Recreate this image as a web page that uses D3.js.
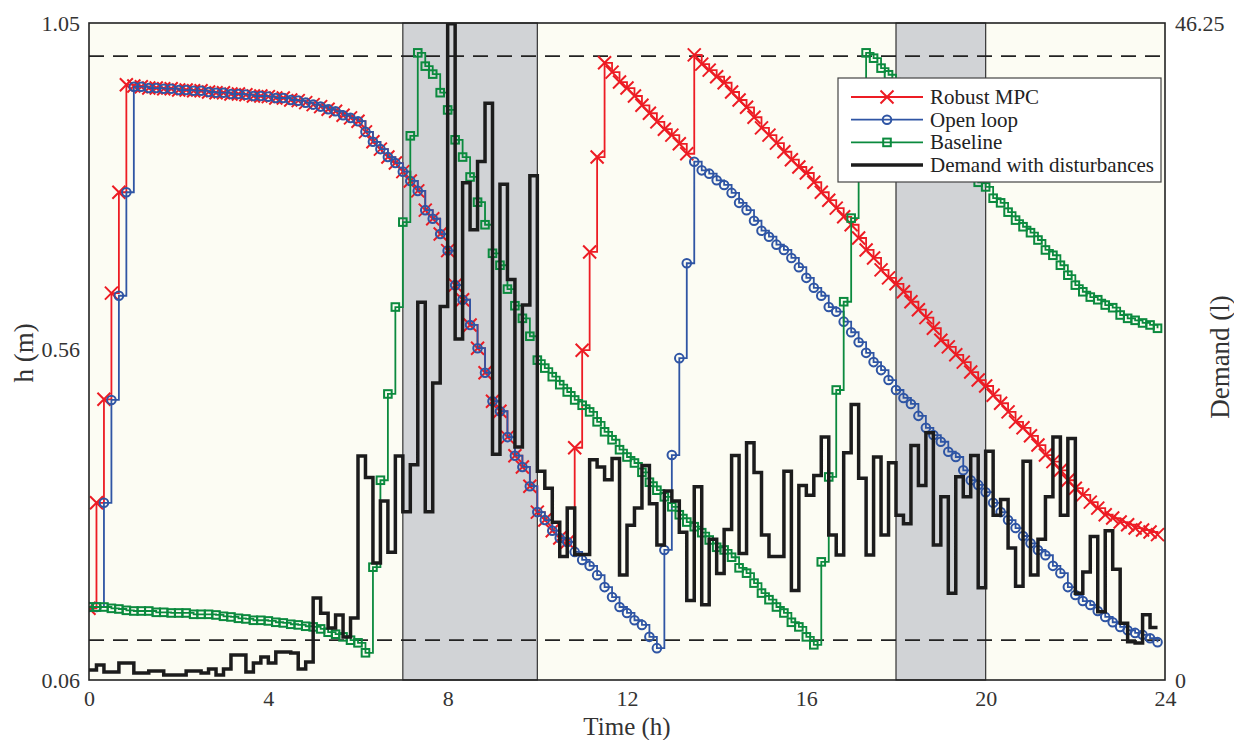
<!DOCTYPE html>
<html>
<head>
<meta charset="utf-8">
<script src="https://cdn.jsdelivr.net/npm/d3@7"></script>
<style>
  body { margin: 0; background: #fff; }
  text { font-family: "Liberation Serif", "Times New Roman", serif; }
</style>
</head>
<body>
<div id="chart-area"></div>
<script>
// sample period is 10 min, one per step
const stepHours = 1 / 6;

const robustMPC = [
  0.168,0.327,0.483,0.643,0.795,0.957,0.955,0.954,0.952,0.952,0.951,0.951,
  0.949,0.949,0.948,0.948,0.946,0.945,0.945,0.943,0.943,0.942,0.940,0.940,
  0.939,0.937,0.937,0.934,0.933,0.930,0.927,0.924,0.920,0.917,0.911,0.907,
  0.902,0.886,0.871,0.860,0.848,0.839,0.826,0.812,0.797,0.768,0.755,0.732,
  0.707,0.655,0.633,0.595,0.560,0.523,0.480,0.465,0.426,0.398,0.381,0.352,
  0.313,0.301,0.285,0.274,0.268,0.410,0.557,0.705,0.848,0.990,0.976,0.961,
  0.952,0.940,0.926,0.914,0.901,0.890,0.881,0.868,0.853,1.002,0.988,0.979,
  0.969,0.960,0.946,0.934,0.923,0.908,0.892,0.881,0.869,0.856,0.844,0.833,
  0.824,0.810,0.795,0.783,0.771,0.758,0.746,0.726,0.708,0.696,0.678,0.666,
  0.657,0.645,0.630,0.618,0.606,0.590,0.572,0.562,0.550,0.539,0.524,0.512,
  0.503,0.489,0.477,0.464,0.449,0.440,0.428,0.414,0.399,0.389,0.376,0.361,
  0.349,0.339,0.328,0.319,0.309,0.304,0.298,0.294,0.289,0.286,0.283,0.279
];

const openLoop = [
  0.170,0.170,0.327,0.482,0.639,0.795,0.954,0.954,0.952,0.952,0.951,0.951,
  0.949,0.949,0.948,0.948,0.946,0.945,0.945,0.943,0.943,0.942,0.940,0.940,
  0.939,0.937,0.937,0.934,0.933,0.930,0.927,0.924,0.920,0.917,0.911,0.907,
  0.902,0.886,0.871,0.860,0.848,0.839,0.826,0.812,0.797,0.768,0.755,0.732,
  0.707,0.655,0.633,0.595,0.560,0.523,0.480,0.465,0.426,0.398,0.381,0.352,
  0.313,0.301,0.285,0.274,0.268,0.253,0.241,0.232,0.218,0.200,0.185,0.170,
  0.161,0.150,0.143,0.125,0.108,0.256,0.399,0.545,0.688,0.841,0.828,0.823,
  0.813,0.806,0.794,0.779,0.768,0.752,0.737,0.728,0.716,0.708,0.696,0.682,
  0.666,0.651,0.639,0.622,0.615,0.600,0.584,0.569,0.553,0.539,0.527,0.512,
  0.497,0.485,0.476,0.458,0.440,0.429,0.419,0.404,0.396,0.376,0.361,0.354,
  0.343,0.327,0.313,0.301,0.289,0.277,0.266,0.256,0.248,0.232,0.221,0.200,
  0.188,0.179,0.173,0.164,0.155,0.147,0.140,0.135,0.131,0.128,0.123,0.117
];

const baseline = [
  0.170,0.170,0.170,0.168,0.167,0.165,0.164,0.164,0.164,0.162,0.162,0.161,
  0.161,0.161,0.159,0.159,0.159,0.158,0.156,0.155,0.153,0.152,0.150,0.150,
  0.149,0.147,0.146,0.144,0.143,0.141,0.140,0.137,0.132,0.129,0.125,0.120,
  0.116,0.101,0.230,0.361,0.491,0.622,0.750,0.880,1.005,0.985,0.973,0.945,
  0.919,0.874,0.848,0.818,0.780,0.746,0.703,0.685,0.649,0.624,0.605,0.578,
  0.542,0.530,0.517,0.505,0.494,0.482,0.474,0.464,0.449,0.434,0.422,0.407,
  0.396,0.387,0.373,0.358,0.346,0.336,0.321,0.309,0.298,0.291,0.282,0.271,
  0.260,0.256,0.245,0.229,0.221,0.206,0.191,0.181,0.170,0.161,0.147,0.140,
  0.125,0.113,0.238,0.366,0.497,0.630,0.756,0.886,1.005,0.997,0.982,0.972,
  0.960,0.949,0.937,0.923,0.910,0.896,0.883,0.869,0.854,0.839,0.822,0.810,
  0.803,0.786,0.779,0.765,0.753,0.743,0.734,0.723,0.708,0.700,0.685,0.670,
  0.655,0.645,0.637,0.633,0.625,0.621,0.610,0.605,0.602,0.598,0.595,0.590
];

const demand = [
  0.7,1.06,0.56,0.56,1.2,1.2,0.5,0.5,0.63,0.63,0.35,0.35,
  0.35,0.63,0.63,0.5,0.77,0.35,0.77,1.76,1.76,0.56,1.2,1.62,
  1.2,1.97,1.97,1.9,0.77,1.27,5.77,4.7,3.66,4.58,3.03,4.37,
  15.76,14.25,8.24,12.6,8.99,15.76,11.85,15.16,26.6,11.85,20.9,26.3,
  46.2,24.0,35.0,31.7,36.5,40.6,15.9,34.9,28.2,16.4,26.4,35.5,
  14.7,13.5,11.1,8.7,12.1,8.84,8.84,15.5,15.0,14.1,15.6,7.39,
  10.9,12.1,15.1,12.4,9.5,13.3,12.6,10.4,5.6,13.6,5.3,9.9,
  7.5,10.6,15.8,8.9,16.7,14.6,10.2,8.7,8.7,14.7,6.3,13.7,
  13.0,14.4,17.1,10.2,8.8,16.0,19.4,14.2,8.8,15.7,10.2,15.3,
  11.6,11.0,16.5,13.7,17.4,9.5,12.9,6.1,14.3,12.9,15.8,6.5,
  16.1,11.6,12.7,9.3,6.6,15.4,7.4,9.9,12.9,17.1,11.6,17.0,
  6.1,7.6,10.1,4.8,10.5,7.8,4.0,2.7,2.6,4.6,3.7,3.7
];

const peakPeriods = [[7, 10], [18, 20]];
const levelLimits = [0.12, 1.0];
const xTicks = [0, 4, 8, 12, 16, 20, 24];
const hTicks = [0.06, 0.56, 1.05];
const demandTicks = [0, 46.25];
const seriesNames = ['Robust MPC', 'Open loop', 'Baseline', 'Demand with disturbances'];

const margin = { top: 23, right: 69, bottom: 60, left: 89 },
    width  = 1234 - margin.left - margin.right,
    height = 740 - margin.top - margin.bottom;

const svg = d3.select('#chart-area')
    .append('svg')
    .attr('width', 1234)
    .attr('height', 740)
    .append('g')
    .attr('transform', `translate(${margin.left},${margin.top})`);

const x = d3.scaleLinear().domain([0, 24]).range([0, width]);
const y = d3.scaleLinear().domain([0.06, 1.05]).range([height, 0]);
const yR = d3.scaleLinear().domain([0, 46.25]).range([height, 0]);

svg.append('rect')
    .attr('width', width)
    .attr('height', height)
    .attr('fill', '#fcfcf3');

svg.append('clipPath').attr('id', 'plot-clip')
    .append('rect').attr('width', width).attr('height', height);

// shaded peak periods
svg.selectAll('.peak')
    .data(peakPeriods)
    .enter()
    .append('rect')
    .attr('class', 'peak')
    .attr('x', d => x(d[0]))
    .attr('y', 0)
    .attr('width', d => x(d[1]) - x(d[0]))
    .attr('height', height)
    .attr('fill', '#d1d3d6')
    .attr('stroke', '#333')
    .attr('stroke-width', 1.2);

svg.selectAll('.limit')
    .data(levelLimits)
    .enter()
    .append('line')
    .attr('x1', 0)
    .attr('x2', width)
    .attr('y1', d => y(d))
    .attr('y2', d => y(d))
    .attr('stroke', '#222')
    .attr('stroke-width', 1.8)
    .attr('stroke-dasharray', '15,9');

const plot = svg.append('g').attr('clip-path', 'url(#plot-clip)');

function toPoints(values) {
    return values.map((v, i) => [i * stepHours, v]);
}

const stepLine = scaleY => d3.line()
    .x(d => x(d[0]))
    .y(d => scaleY(d[1]))
    .curve(d3.curveStepAfter);

const series = [
    { values: robustMPC, color: '#ed1c24', marker: 'cross' },
    { values: openLoop,  color: '#2f55a4', marker: 'circle' },
    { values: baseline,  color: '#0b8a3e', marker: 'square' }
];

function drawMarker(g, type, color) {
    if (type === 'cross') {
        g.append('path')
            .attr('d', 'M-6.5,-6.5L6.5,6.5M-6.5,6.5L6.5,-6.5')
            .attr('stroke', color).attr('stroke-width', 2).attr('fill', 'none');
    } else if (type === 'circle') {
        g.append('circle')
            .attr('r', 4.3)
            .attr('stroke', color).attr('stroke-width', 2).attr('fill', 'none');
    } else {
        g.append('rect')
            .attr('x', -3.8).attr('y', -3.8).attr('width', 7.6).attr('height', 7.6)
            .attr('stroke', color).attr('stroke-width', 2).attr('fill', 'none');
    }
}

series.forEach(s => {
    const pts = toPoints(s.values);
    plot.append('path')
        .datum(pts)
        .attr('d', stepLine(y))
        .attr('fill', 'none')
        .attr('stroke', s.color)
        .attr('stroke-width', 1.8);
    plot.selectAll(null)
        .data(pts)
        .enter()
        .append('g')
        .attr('transform', d => `translate(${x(d[0])},${y(d[1])})`)
        .each(function() { drawMarker(d3.select(this), s.marker, s.color); });
});

plot.append('path')
    .datum(toPoints(demand))
    .attr('d', stepLine(yR))
    .attr('fill', 'none')
    .attr('stroke', '#1c1c1c')
    .attr('stroke-width', 3.5);

// frame
svg.append('rect')
    .attr('width', width)
    .attr('height', height)
    .attr('fill', 'none')
    .attr('stroke', '#222')
    .attr('stroke-width', 1.6);

const fmt = d => d.toString();

const xAxis = svg.append('g')
    .attr('transform', `translate(0,${height})`)
    .call(d3.axisBottom(x).tickValues(xTicks).tickSize(0).tickPadding(10).tickFormat(fmt));
const yAxis = svg.append('g')
    .call(d3.axisLeft(y).tickValues(hTicks).tickSize(0).tickPadding(9).tickFormat(d3.format('.2f')));
const yAxisR = svg.append('g')
    .attr('transform', `translate(${width},0)`)
    .call(d3.axisRight(yR).tickValues(demandTicks).tickSize(0).tickPadding(10).tickFormat(fmt));

[xAxis, yAxis, yAxisR].forEach(a => {
    a.select('.domain').remove();
    a.selectAll('text')
        .attr('font-size', 22)
        .attr('fill', '#333');
});
yAxis.selectAll('text').attr('dy', '0.36em');
yAxisR.selectAll('text').attr('dy', '0.36em');

svg.append('text')
    .attr('text-anchor', 'middle')
    .attr('x', width / 2)
    .attr('y', 735 - margin.top)
    .attr('font-size', 25)
    .attr('fill', '#333')
    .text('Time (h)');

svg.append('text')
    .attr('text-anchor', 'middle')
    .attr('transform', 'rotate(-90)')
    .attr('x', -(353 - margin.top))
    .attr('y', 33 - margin.left)
    .attr('font-size', 27)
    .attr('fill', '#333')
    .text('h (m)');

svg.append('text')
    .attr('text-anchor', 'middle')
    .attr('transform', 'rotate(-90)')
    .attr('x', -(357 - margin.top))
    .attr('y', 1229 - margin.left)
    .attr('font-size', 27)
    .attr('fill', '#333')
    .text('Demand (l)');

// legend
const legend = svg.append('g')
    .attr('transform', `translate(${838 - margin.left},${78 - margin.top})`);

legend.append('rect')
    .attr('width', 323)
    .attr('height', 104)
    .attr('fill', '#fff')
    .attr('stroke', '#444')
    .attr('stroke-width', 1.2);

const legendItems = [
    { name: seriesNames[0], color: '#ed1c24', marker: 'cross', w: 1.8 },
    { name: seriesNames[1], color: '#2f55a4', marker: 'circle', w: 1.8 },
    { name: seriesNames[2], color: '#0b8a3e', marker: 'square', w: 1.8 },
    { name: seriesNames[3], color: '#1c1c1c', marker: null, w: 3.5 }
];

legendItems.forEach((d, i) => {
    const row = legend.append('g').attr('transform', `translate(0,${19 + i * 22.7})`);
    row.append('line')
        .attr('x1', 13).attr('x2', 85)
        .attr('stroke', d.color).attr('stroke-width', d.w);
    if (d.marker) {
        const m = row.append('g').attr('transform', 'translate(49,0)');
        drawMarker(m, d.marker, d.color);
    }
    row.append('text')
        .attr('x', 92)
        .attr('dy', '0.33em')
        .attr('font-size', 21)
        .attr('fill', '#222')
        .text(d.name);
});
</script>
</body>
</html>
